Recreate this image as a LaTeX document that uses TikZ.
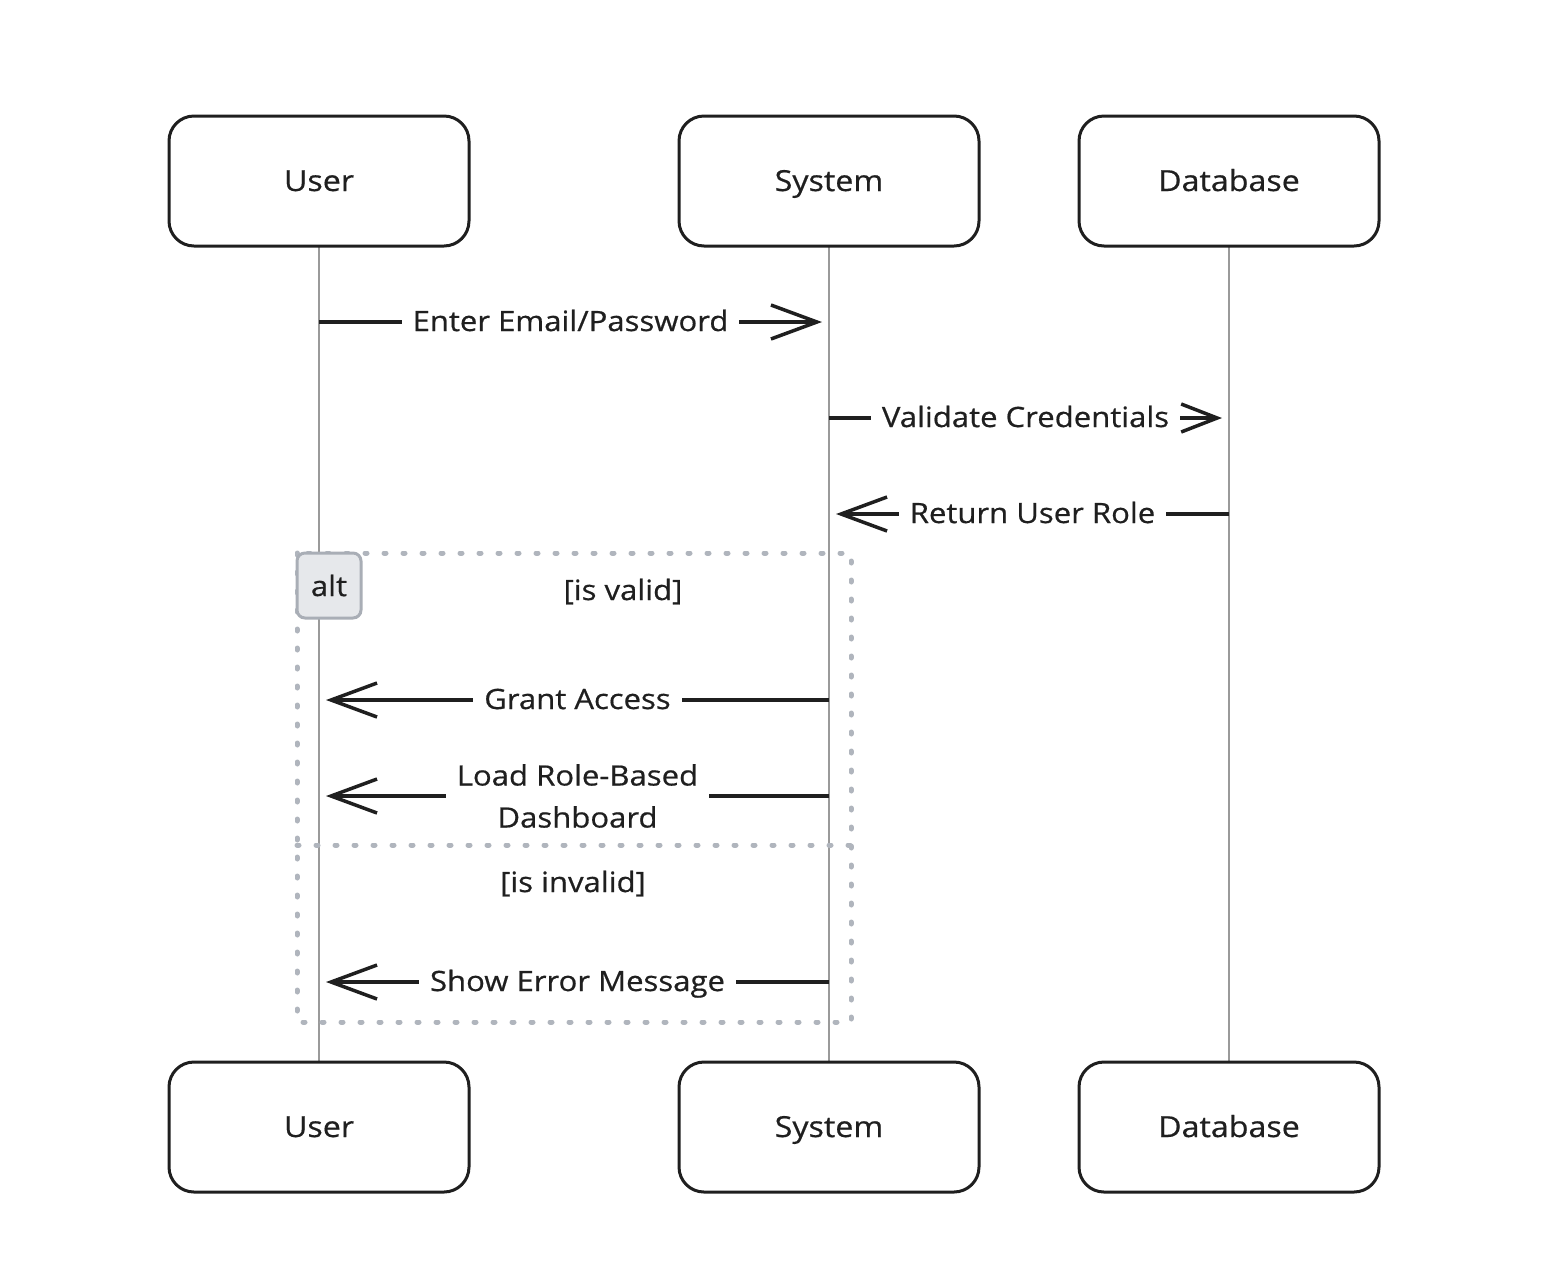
\documentclass[tikz,border=0pt]{standalone}
\usepackage{fontspec}
\setmainfont{Open Sans}[FakeStretch=1.11, FakeBold=0.6]
\usetikzlibrary{arrows.meta}
\definecolor{ink}{HTML}{1F1F1F}
\definecolor{life}{HTML}{9A9A9A}
\definecolor{frame}{HTML}{B0B5BD}
\definecolor{altfill}{HTML}{E6E8EB}
\definecolor{altline}{HTML}{A9AEB6}
\tikzset{
  actor/.style={draw=ink, line width=3pt, rounded corners=25pt, minimum width=300pt,
    minimum height=130pt, fill=white, font=\fontsize{29}{34}\selectfont, text=ink,
    text height=21pt, text depth=1pt},
  lifeline/.style={draw=life, line width=1.5pt},
  msg/.style={draw=ink, line width=3.5pt, -{Straight Barb[length=46pt, width=34pt, line width=3.5pt]}},
  msgsmall/.style={draw=ink, line width=3.5pt, -{Straight Barb[length=36pt, width=28pt, line width=3.5pt]}},
  lbltext/.style={fill=white, inner xsep=11pt, inner ysep=4pt, font=\fontsize{28}{42}\selectfont,
    text=ink, align=center},
  lbl/.style={lbltext, text height=20pt, text depth=0pt},
  altframe/.style={draw=frame, line width=5pt, line cap=round, dash pattern=on 2pt off 17pt},
  guard/.style={font=\fontsize{28}{34}\selectfont, text=ink, text height=20pt, text depth=0pt},
}
\begin{document}
\begin{tikzpicture}[x=1pt, y=-1pt]
  \useasboundingbox (0,0) rectangle (1544,1278);

  % lifelines
  \draw[lifeline] (319,246) -- (319,1062);
  \draw[lifeline] (829,246) -- (829,1062);
  \draw[lifeline] (1229,246) -- (1229,1062);

  % participants, top and bottom
  \node[actor] (userTop) at (319,181) {User};
  \node[actor] (sysTop) at (829,181) {System};
  \node[actor] (dbTop) at (1229,181) {Database};
  \node[actor] (userBot) at (319,1127) {User};
  \node[actor] (sysBot) at (829,1127) {System};
  \node[actor] (dbBot) at (1229,1127) {Database};

  % alt fragment
  \draw[altframe] (297,553) rectangle (851,1022);
  \draw[altframe] (297,845) -- (851,845);
  \node[draw=altline, fill=altfill, line width=3pt, rounded corners=8pt,
        minimum width=64pt, minimum height=65pt, inner sep=0pt,
        font=\fontsize{28}{34}\selectfont, text=ink] (altTag) at (329,585.5) {alt};
  \node[guard] (validGuard) at (623,590) {[is valid]};
  \node[guard] (invalidGuard) at (573,882) {[is invalid]};

  % message anchors on the lifelines
  \coordinate (m1s) at (319,322);  \coordinate (m1e) at (822,322);
  \coordinate (m2s) at (829,418);  \coordinate (m2e) at (1222,418);
  \coordinate (m3s) at (1229,514); \coordinate (m3e) at (836,514);
  \coordinate (m4s) at (829,700);  \coordinate (m4e) at (326,700);
  \coordinate (m5s) at (829,796);  \coordinate (m5e) at (326,796);
  \coordinate (m6s) at (829,982);  \coordinate (m6e) at (326,982);

  % messages
  \draw[msg] (m1s) -- node[lbl, yshift=1pt] {Enter Email/Password} (m1e);
  \draw[msgsmall] (m2s) -- node[lbl, yshift=1pt] {Validate Credentials} (m2e);
  \draw[msg] (m3s) -- node[lbl, yshift=1pt] {Return User Role} (m3e);
  \draw[msg] (m4s) -- node[lbl, yshift=1pt] {Grant Access} (m4e);
  \draw[msg] (m5s) -- node[lbltext] {Load Role-Based\\Dashboard} (m5e);
  \draw[msg] (m6s) -- node[lbl, yshift=1pt] {Show Error Message} (m6e);
\end{tikzpicture}
\end{document}
